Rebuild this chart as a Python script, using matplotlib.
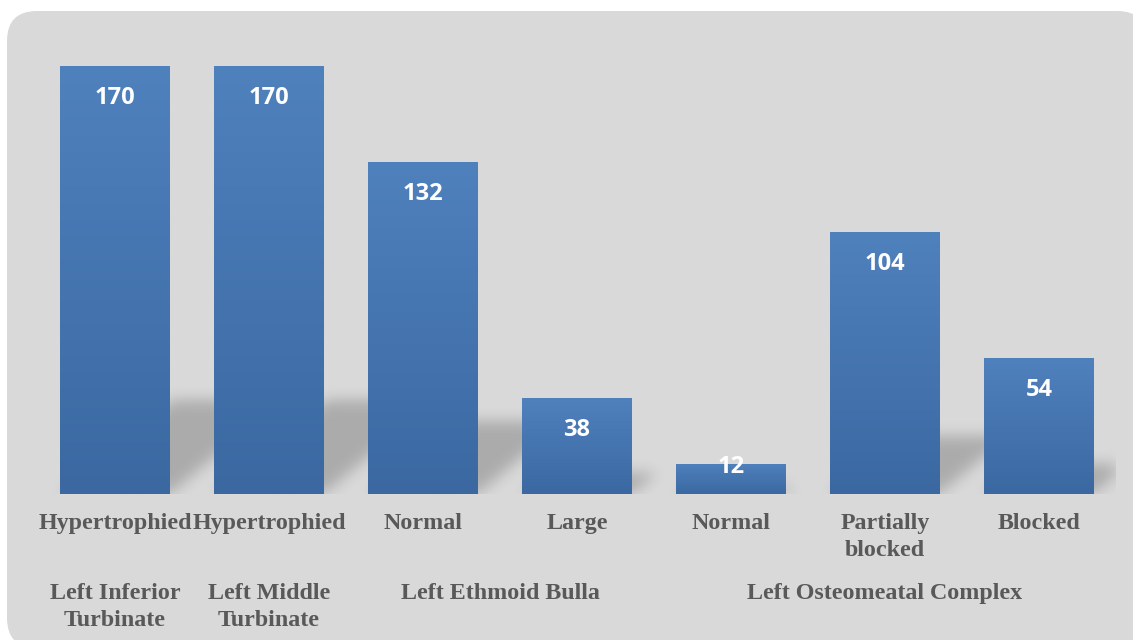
import numpy as np
import matplotlib
matplotlib.use("Agg")
import matplotlib.pyplot as plt
from matplotlib.patches import FancyBboxPatch
from matplotlib.path import Path
from matplotlib.colors import LinearSegmentedColormap
from matplotlib.transforms import IdentityTransform

# data
sub_labels = ["Hypertrophied", "Hypertrophied", "Normal", "Large", "Normal", "Partially\nblocked", "Blocked"]
values = [170, 170, 132, 38, 12, 104, 54]
groups = ["Left Inferior\nTurbinate", "Left Middle\nTurbinate", "Left Ethmoid Bulla", "Left Osteomeatal Complex"]
group_members = [[0], [1], [2, 3], [4, 5, 6]]

TXT = "#595959"
BG = "#d9d9d9"
W, H = 1133, 640
YMAX = 180
PX_X = 154.0                 # pixels per category
PX_Y = 453.0 / YMAX          # pixels per unit

fig = plt.figure(figsize=(W / 100, H / 100), dpi=100)
fig.patch.set_facecolor("white")
fig.patches.append(FancyBboxPatch((7, -8), 1140, 640 - 11 + 8, boxstyle="round,pad=0,rounding_size=30",
                                  fc=BG, ec="none", transform=IdentityTransform(), zorder=-10))

ax = fig.add_axes([38 / W, (H - 494) / H, 1078 / W, 453 / H])
ax.set_facecolor("none")
for s in ax.spines.values():
    s.set_visible(False)

x = np.arange(len(values))
bw = 110 / PX_X
bars = ax.bar(x, values, bw, color="none", zorder=3)

# gradient fill inside each bar
cmap = LinearSegmentedColormap.from_list("g", ["#3b68a1", "#4f81bd"])
grad = np.linspace(0, 1, 256).reshape(-1, 1)
for r in bars:
    im = ax.imshow(grad, extent=[r.get_x(), r.get_x() + r.get_width(), 0, r.get_height()],
                   origin="lower", cmap=cmap, aspect="auto", zorder=3)
    im.set_clip_path(r)

# soft perspective shadows behind the bars
nx, ny = 1078, 453
gx = np.linspace(-0.5, 6.5, nx)
gy = np.linspace(0, YMAX, ny)
GX, GY = np.meshgrid(gx, gy)
pts = np.column_stack([GX.ravel(), GY.ravel()])
mask = np.zeros(GX.size)
for r in bars:
    x0, x1, h = r.get_x(), r.get_x() + r.get_width(), r.get_height()
    sh = 0.22 * h
    off = 1.2 * sh * PX_Y / PX_X
    poly = Path([(x0, 0), (x1, 0), (x1 + off, sh), (x0 + off, sh), (x0, 0)])
    mask = np.maximum(mask, poly.contains_points(pts).astype(float))
mask = mask.reshape(ny, nx)

sig = 7
k = np.exp(-0.5 * (np.arange(-3 * sig, 3 * sig + 1) / sig) ** 2)
k /= k.sum()
pad = 3 * sig
m = np.pad(mask, ((pad, pad), (pad, pad)))
m = np.apply_along_axis(lambda v: np.convolve(v, k, mode="same"), 1, m)
m = np.apply_along_axis(lambda v: np.convolve(v, k, mode="same"), 0, m)
m = m[pad:-pad, pad:-pad]
rgba = np.zeros((ny, nx, 4))
rgba[..., 3] = 0.21 * m
ax.imshow(rgba, extent=[-0.5, 6.5, 0, YMAX], origin="lower", aspect="auto", zorder=1)

ax.set_xlim(-0.5, 6.5)
ax.set_ylim(0, YMAX)
ax.set_xticks([])
ax.set_yticks([])

# value labels
for xi, v in zip(x, values):
    off = 32 if v * PX_Y > 60 else 3
    ax.annotate(str(v), (xi, v), xytext=(0, -off), textcoords="offset pixels", ha="center", va="center",
                color="white", fontsize=17, weight="bold", family="Open Sans", zorder=5)

# category labels
serif = dict(family="Liberation Serif", weight="bold", fontsize=17.3, color=TXT, ha="center",
             va="top", linespacing=1.4, annotation_clip=False)
for xi, lab in zip(x, sub_labels):
    ax.annotate(lab, (xi, 0), xytext=(0, -(529 - 16 - 494)), textcoords="offset pixels", **serif)
for g, mem in zip(groups, group_members):
    gxc = np.mean(x[mem])
    ax.annotate(g, (gxc, 0), xytext=(0, -(599 - 16 - 494)), textcoords="offset pixels", **serif)

fig.savefig("out.png", dpi=100)
